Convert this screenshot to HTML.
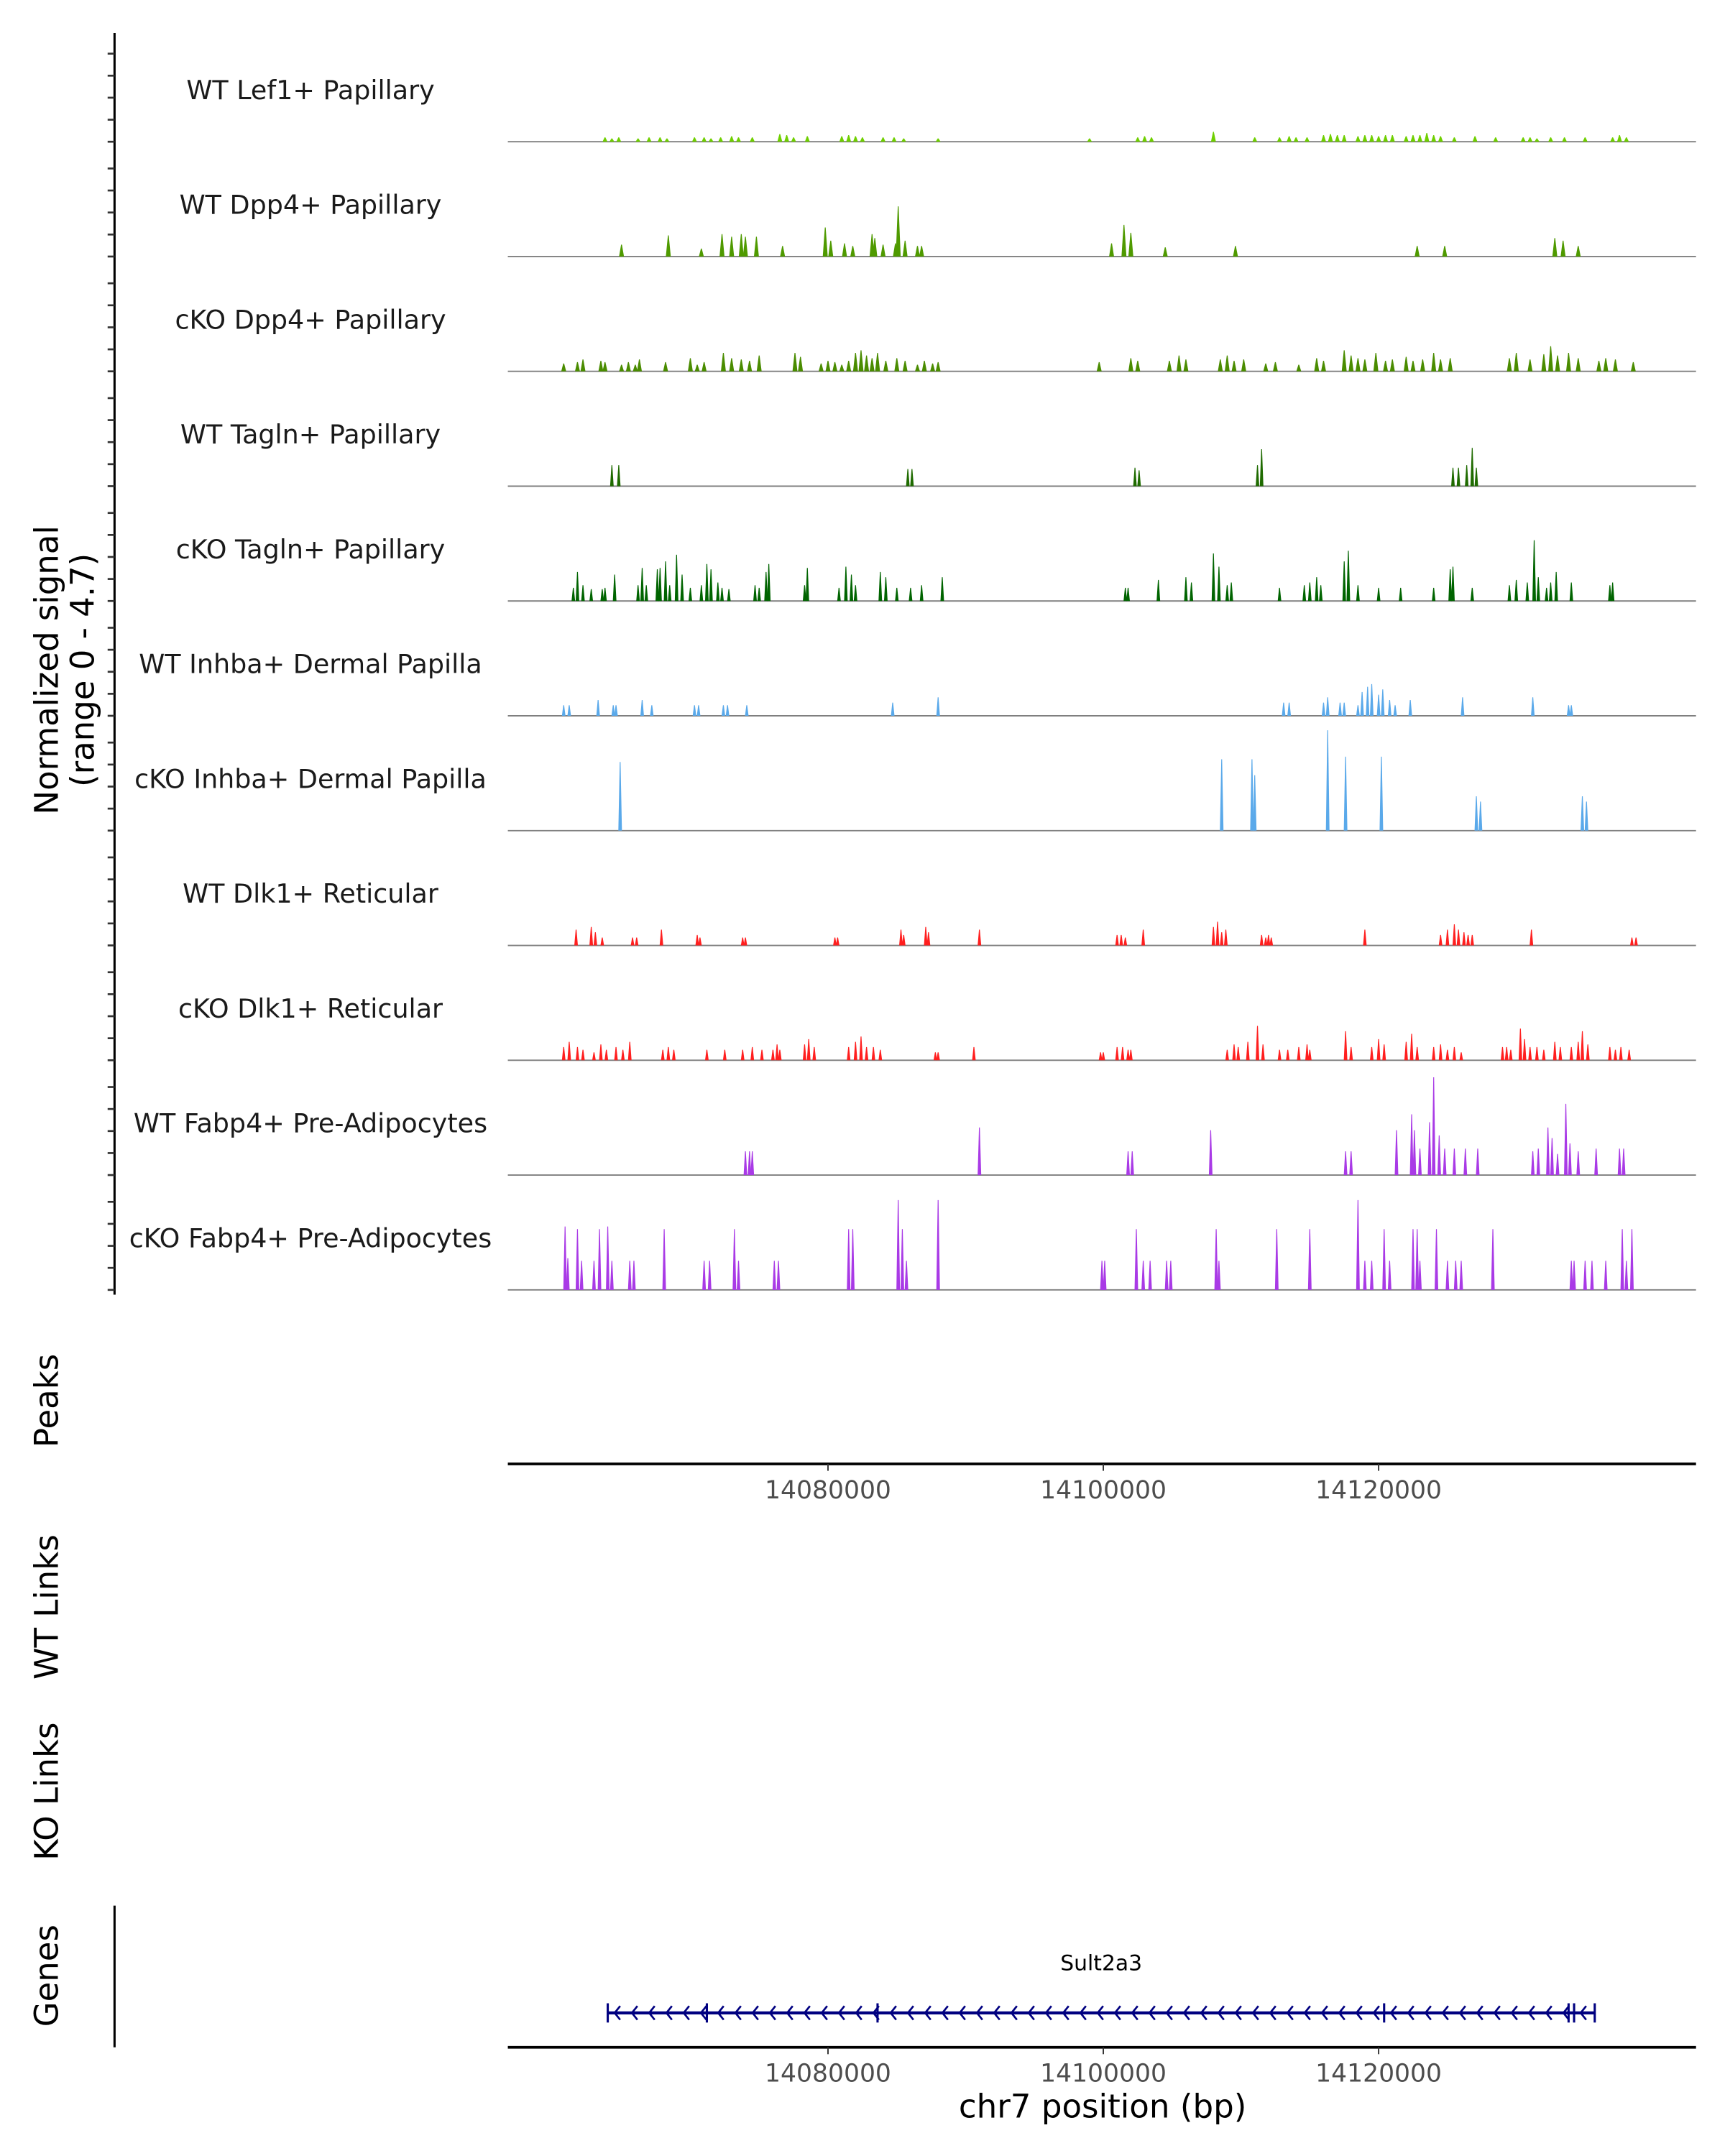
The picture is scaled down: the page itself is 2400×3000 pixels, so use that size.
<!DOCTYPE html>
<html><head><meta charset="utf-8">
<style>
html,body{margin:0;padding:0;background:#fff;}
svg{display:block;font-family:"DejaVu Sans","Liberation Sans",sans-serif;}
</style></head>
<body>
<svg id="chart" width="2400" height="3000" viewBox="0 0 1250 1567" preserveAspectRatio="none" xmlns="http://www.w3.org/2000/svg">
<g id="tracks"></g>
<line x1="83" y1="24" x2="83" y2="941" stroke="#000" stroke-width="1.6"/>
<g id="yticks"></g>
<text transform="translate(42,487) rotate(-90)" text-anchor="middle" font-size="23.5" fill="#000">Normalized signal</text>
<text transform="translate(68,487) rotate(-90)" text-anchor="middle" font-size="23.5" fill="#000">(range 0 - 4.7)</text>
<text transform="translate(42,1018) rotate(-90)" text-anchor="middle" font-size="23.5">Peaks</text>
<text transform="translate(42,1168) rotate(-90)" text-anchor="middle" font-size="23.5">WT Links</text>
<text transform="translate(42,1302) rotate(-90)" text-anchor="middle" font-size="23.5">KO Links</text>
<text transform="translate(42,1436) rotate(-90)" text-anchor="middle" font-size="23.5">Genes</text>
<line x1="83" y1="1385" x2="83" y2="1488" stroke="#000" stroke-width="1.6"/>
<g id="axes"></g>
<g id="gene"></g>
<text x="799" y="1539" text-anchor="middle" font-size="23.5">chr7 position (bp)</text>
</svg>
<script>
const NS="http://www.w3.org/2000/svg";
// positions in kb after chr7:14,000,000 ; heights in normalized signal
const trackNames=["WT Lef1+ Papillary","WT Dpp4+ Papillary","cKO Dpp4+ Papillary","WT Tagln+ Papillary","cKO Tagln+ Papillary","WT Inhba+ Dermal Papilla","cKO Inhba+ Dermal Papilla","WT Dlk1+ Reticular","cKO Dlk1+ Reticular","WT Fabp4+ Pre-Adipocytes","cKO Fabp4+ Pre-Adipocytes"];
const trackColors=["#6fcf00","#4f9a00","#4a8c00","#1f6b00","#006400","#5aa9ea","#5aa9ea","#ff1f1f","#ff1f1f","#a93ae6","#a93ae6"];
const pos0=[63.8,64.3,64.8,66.2,67.0,67.8,68.3,70.3,71.0,71.5,72.2,73.0,73.5,74.5,76.5,77.0,77.5,78.5,81.0,81.5,82.0,82.5,84.0,84.8,85.5,88.0,99.0,102.5,103.0,103.5,108.0,111.0,112.8,113.5,114.0,114.8,116.0,116.5,117.0,117.5,118.5,119.0,119.5,120.0,120.5,121.0,122.0,122.5,123.0,123.5,124.0,124.5,125.5,127.0,128.5,130.5,131.0,131.5,132.5,133.5,135.0,137.0,137.5,138.0];
const val0=[0.2,0.15,0.2,0.15,0.2,0.2,0.15,0.2,0.2,0.15,0.2,0.25,0.2,0.2,0.35,0.3,0.2,0.25,0.25,0.3,0.25,0.2,0.2,0.2,0.15,0.15,0.15,0.2,0.25,0.2,0.45,0.2,0.2,0.25,0.2,0.2,0.3,0.35,0.3,0.3,0.25,0.3,0.3,0.25,0.3,0.3,0.25,0.3,0.3,0.4,0.3,0.25,0.2,0.25,0.2,0.2,0.2,0.15,0.2,0.2,0.2,0.2,0.3,0.2];
const pos1=[65.0,68.4,70.8,72.3,73.0,73.7,74.0,74.8,76.7,79.8,80.2,81.2,81.8,83.2,83.4,84.0,84.9,85.1,85.6,86.5,86.8,100.6,101.5,102.0,104.5,109.6,122.8,124.8,132.8,133.4,134.5];
const val1=[0.54,0.96,0.36,1.02,0.9,1.02,0.9,0.9,0.48,1.32,0.72,0.6,0.48,1.02,0.84,0.54,0.6,2.28,0.72,0.48,0.48,0.6,1.44,1.08,0.42,0.48,0.48,0.48,0.84,0.72,0.48];
const pos2=[60.8,61.8,62.2,63.5,63.8,65.0,65.5,66.0,66.3,68.2,70.0,70.5,71.0,72.4,73.0,73.7,74.3,75.0,77.6,78.0,79.5,80.0,80.5,81.0,81.5,82.0,82.4,82.8,83.2,83.6,84.2,85.0,85.6,86.5,87.0,87.6,88.0,99.7,102.0,102.5,104.8,105.5,106.0,108.5,109.0,109.5,110.2,111.8,112.5,114.2,115.5,116.0,117.5,118.0,118.5,119.0,119.8,120.5,121.0,122.0,122.5,123.2,124.0,124.5,125.2,129.5,130.0,131.0,132.0,132.5,133.0,133.8,134.5,136.0,136.5,137.2,138.5];
const val2=[0.36,0.42,0.54,0.48,0.42,0.3,0.42,0.3,0.54,0.42,0.6,0.3,0.42,0.84,0.6,0.54,0.48,0.72,0.84,0.66,0.36,0.48,0.42,0.3,0.48,0.84,0.96,0.72,0.6,0.84,0.48,0.6,0.48,0.3,0.48,0.36,0.42,0.42,0.6,0.48,0.48,0.72,0.54,0.54,0.72,0.48,0.54,0.36,0.42,0.3,0.6,0.48,0.96,0.72,0.6,0.54,0.84,0.48,0.54,0.66,0.48,0.54,0.84,0.54,0.6,0.6,0.84,0.54,0.78,1.14,0.72,0.84,0.6,0.48,0.6,0.54,0.42];
const pos3=[64.3,64.8,85.8,86.1,102.3,102.6,111.2,111.5,125.4,125.8,126.4,126.8,127.1];
const val3=[0.96,0.96,0.78,0.78,0.84,0.72,0.96,1.68,0.84,0.84,0.96,1.74,0.84];
const pos4=[61.5,61.8,62.2,62.8,63.6,63.8,64.5,66.2,66.5,66.8,67.6,67.8,68.2,68.5,69.0,69.4,70.0,70.8,71.2,71.5,72.0,72.3,72.8,74.7,75.0,75.5,75.7,78.3,78.5,80.8,81.3,81.7,82.0,83.8,84.2,85.0,86.0,86.8,88.3,101.6,101.8,104.0,106.0,106.4,108.0,108.4,109.0,109.3,112.8,114.6,115.0,115.5,115.8,117.5,117.8,118.5,120.0,121.6,124.0,125.2,125.4,126.8,129.5,130.0,130.8,131.3,131.6,132.2,132.5,132.9,134.0,136.8,137.0];
const val4=[0.6,1.32,0.72,0.54,0.54,0.6,1.2,0.72,1.5,0.72,1.44,1.5,1.8,0.72,2.1,1.2,0.6,0.72,1.68,1.44,0.84,0.6,0.54,0.72,0.6,1.32,1.68,0.72,1.5,0.6,1.56,1.2,0.72,1.32,1.08,0.6,0.6,0.72,1.08,0.6,0.6,0.96,1.08,0.84,2.16,1.56,0.72,0.84,0.6,0.72,0.84,1.08,0.72,1.8,2.28,0.72,0.6,0.6,0.6,1.44,1.56,0.6,0.72,0.96,0.84,2.76,1.08,0.6,0.84,1.32,0.84,0.72,0.84];
const pos5=[60.8,61.2,63.3,64.4,64.6,66.5,67.2,70.3,70.6,72.4,72.7,74.1,84.7,88.0,113.1,113.5,116.0,116.3,117.2,117.5,118.5,118.8,119.2,119.5,120.0,120.3,120.8,121.2,122.3,126.1,131.2,133.8,134.0];
const val5=[0.48,0.48,0.72,0.48,0.48,0.72,0.48,0.48,0.48,0.48,0.48,0.48,0.6,0.84,0.6,0.6,0.6,0.84,0.6,0.6,0.48,1.08,1.32,1.44,0.96,1.2,0.72,0.48,0.72,0.84,0.84,0.48,0.48];
const pos6=[64.9,108.6,110.8,111.0,116.3,117.6,120.2,127.1,127.4,134.8,135.1];
const val6=[3.12,3.24,3.24,2.52,4.56,3.36,3.36,1.56,1.32,1.56,1.32];
const pos7=[61.7,62.8,63.1,63.6,65.8,66.1,67.9,70.5,70.7,73.8,74.0,80.5,80.7,85.3,85.5,87.1,87.3,91.0,101.0,101.3,101.6,102.9,108.0,108.3,108.6,108.9,111.5,111.8,112.0,112.2,119.0,124.5,125.0,125.5,125.8,126.2,126.5,126.8,131.1,138.4,138.7];
const val7=[0.72,0.84,0.6,0.36,0.36,0.36,0.72,0.48,0.36,0.36,0.36,0.36,0.36,0.72,0.48,0.84,0.6,0.72,0.48,0.48,0.36,0.72,0.84,1.08,0.6,0.72,0.48,0.36,0.48,0.36,0.72,0.48,0.72,0.96,0.72,0.6,0.48,0.48,0.72,0.36,0.36];
const pos8=[60.8,61.2,61.8,62.2,63.0,63.5,63.9,64.6,65.1,65.6,68.0,68.4,68.8,71.2,72.5,73.8,74.5,75.2,76.0,76.3,76.5,78.3,78.6,79.0,81.5,82.0,82.4,82.8,83.3,83.8,87.8,88.0,90.6,99.8,100.0,101.0,101.4,101.8,102.0,109.0,109.5,109.8,110.5,111.2,111.6,112.8,113.4,114.2,114.8,115.0,117.6,118.0,119.5,120.0,120.4,122.0,122.4,122.8,124.0,124.5,125.0,125.5,126.0,129.0,129.3,129.6,130.3,130.6,131.0,131.5,132.0,132.8,133.2,134.0,134.5,134.8,135.2,136.8,137.2,137.6,138.2];
const val8=[0.6,0.84,0.6,0.48,0.36,0.72,0.48,0.6,0.48,0.84,0.48,0.6,0.48,0.48,0.48,0.48,0.6,0.48,0.48,0.72,0.48,0.72,0.96,0.6,0.6,0.84,1.08,0.6,0.6,0.48,0.36,0.36,0.6,0.36,0.36,0.6,0.6,0.48,0.48,0.48,0.72,0.6,0.84,1.56,0.72,0.48,0.48,0.6,0.72,0.48,1.32,0.6,0.6,0.96,0.72,0.84,1.2,0.6,0.6,0.72,0.48,0.6,0.36,0.6,0.6,0.48,1.44,0.96,0.6,0.6,0.48,0.84,0.6,0.6,0.84,1.32,0.72,0.6,0.48,0.6,0.48];
const pos9=[74.0,74.3,74.5,91.0,101.8,102.1,107.8,117.6,118.0,121.3,122.4,122.6,123.0,123.7,124.0,124.4,124.8,125.5,126.3,127.2,131.2,131.6,132.3,132.6,133.0,133.6,133.9,134.5,135.8,137.5,137.8];
const val9=[1.08,1.08,1.08,2.16,1.08,1.08,2.04,1.08,1.08,2.04,2.76,2.04,1.2,2.4,4.44,1.8,1.2,1.2,1.2,1.2,1.08,1.2,2.16,1.68,0.96,3.24,1.44,1.08,1.2,1.2,1.2];
const pos10=[60.9,61.1,61.8,62.1,63.0,63.4,64.0,64.3,65.6,65.9,68.1,71.0,71.4,73.2,73.5,76.1,76.4,81.5,81.8,85.1,85.4,85.7,88.0,99.9,100.1,102.4,102.9,103.4,104.6,104.9,108.2,108.4,112.6,115.0,118.5,119.0,119.5,120.4,120.8,122.5,122.8,123.0,124.2,125.0,125.6,126.0,128.3,134.0,134.2,135.0,135.5,136.5,137.7,138.0,138.4];
const val10=[2.88,1.44,2.76,1.32,1.32,2.76,2.88,1.32,1.32,1.32,2.76,1.32,1.32,2.76,1.32,1.32,1.32,2.76,2.76,4.08,2.76,1.32,4.08,1.32,1.32,2.76,1.32,1.32,1.32,1.32,2.76,1.32,2.76,2.76,4.08,1.32,1.32,2.76,1.32,2.76,2.76,1.32,2.76,1.32,1.32,1.32,2.76,1.32,1.32,1.32,1.32,1.32,2.76,1.32,2.76];
const trackPos=[pos0,pos1,pos2,pos3,pos4,pos5,pos6,pos7,pos8,pos9,pos10];
const trackVals=[val0,val1,val2,val3,val4,val5,val6,val7,val8,val9,val10];
const yTickVals=[0,1,2,3,4];
const xTickKb=[80,100,120];
const xTickLabels=["14080000","14100000","14120000"];
const geneStartKb=64.0, geneEndKb=135.7;
const exonKb=[64.0,71.2,83.6,120.4,133.8,134.2,135.7];

const X0=368,X1=1229;
function xs(kb){return 600+(kb-80)*(199.5/20);}
const PANEL_TOP=103, PANEL_H=83.45, UNIT=16.0;
function ys(i,v){return PANEL_TOP+i*PANEL_H - v*UNIT;}

const tracks=document.getElementById('tracks');
const yt=document.getElementById('yticks');
trackNames.forEach((name,i)=>{
  const g=document.createElementNS(NS,'g');
  
  
  const lbl=document.createElementNS(NS,'text');
  
  
  lbl.setAttribute('x',225);lbl.setAttribute('y',ys(i,0)-31);
  lbl.setAttribute('text-anchor','middle');lbl.setAttribute('font-size','19');lbl.setAttribute('fill','#1a1a1a');
  lbl.textContent=name;g.appendChild(lbl);
  const base=document.createElementNS(NS,'line');
  
  
  base.setAttribute('x1',X0);base.setAttribute('x2',X1);
  base.setAttribute('y1',ys(i,0));base.setAttribute('y2',ys(i,0));
  base.setAttribute('stroke','#7f7f7f');base.setAttribute('stroke-width','1');
  g.appendChild(base);
  const P=trackPos[i],V=trackVals[i];
  const hw = i<=2?1.8:1.3;
  for(let k=0;k<P.length;k++){
    const x=xs(P[k]),y0=ys(i,0),y1=ys(i,V[k]);
    const p=document.createElementNS(NS,'polygon');
    
    
    p.setAttribute('points',(x-hw)+','+y0+' '+(x-0.3)+','+y1+' '+(x+0.3)+','+y1+' '+(x+hw)+','+y0);
    p.setAttribute('fill',trackColors[i]);
    g.appendChild(p);
  }
  tracks.appendChild(g);
  yTickVals.forEach(v=>{
    const t=document.createElementNS(NS,'line');
    
    
    t.setAttribute('x1',78);t.setAttribute('x2',83);
    t.setAttribute('y1',ys(i,v));t.setAttribute('y2',ys(i,v));
    t.setAttribute('stroke','#333');t.setAttribute('stroke-width','1.4');
    yt.appendChild(t);
  });
});

const axes=document.getElementById('axes');
[1064,1488].forEach(ay=>{
  const l=document.createElementNS(NS,'line');
  
  
  l.setAttribute('x1',X0);l.setAttribute('x2',X1);l.setAttribute('y1',ay);l.setAttribute('y2',ay);
  l.setAttribute('stroke','#000');l.setAttribute('stroke-width','2');
  axes.appendChild(l);
  xTickKb.forEach((kb,j)=>{
    const t=document.createElementNS(NS,'line');
    
    
    t.setAttribute('x1',xs(kb));t.setAttribute('x2',xs(kb));t.setAttribute('y1',ay);t.setAttribute('y2',ay+5);
    t.setAttribute('stroke','#333');t.setAttribute('stroke-width','1');
    axes.appendChild(t);
    const tx=document.createElementNS(NS,'text');
    
    
    tx.setAttribute('x',xs(kb));tx.setAttribute('y',ay+25);
    tx.setAttribute('text-anchor','middle');tx.setAttribute('font-size','18');tx.setAttribute('fill','#4d4d4d');
    tx.textContent=xTickLabels[j];
    axes.appendChild(tx);
  });
});

const gene=document.getElementById('gene');
const GY=1463;
const gl=document.createElementNS(NS,'line');


gl.setAttribute('x1',xs(geneStartKb));gl.setAttribute('x2',xs(geneEndKb));gl.setAttribute('y1',GY);gl.setAttribute('y2',GY);
gl.setAttribute('stroke','#000080');gl.setAttribute('stroke-width','2.2');
gene.appendChild(gl);
const gname=document.createElementNS(NS,'text');


gname.setAttribute('x',798);gname.setAttribute('y',1432);gname.setAttribute('text-anchor','middle');gname.setAttribute('font-size','15.5');
gname.textContent='Sult2a3';
gene.appendChild(gname);
exonKb.forEach(kb=>{
  const e=document.createElementNS(NS,'line');
  
  
  e.setAttribute('x1',xs(kb));e.setAttribute('x2',xs(kb));e.setAttribute('y1',GY-7);e.setAttribute('y2',GY+7);
  e.setAttribute('stroke','#000080');e.setAttribute('stroke-width','1.6');
  gene.appendChild(e);
});
for(let x=xs(geneStartKb)+5;x<xs(geneEndKb)-5;x+=12.5){
  const c=document.createElementNS(NS,'polyline');
  
  
  c.setAttribute('points',(x+4)+','+(GY-5)+' '+x+','+GY+' '+(x+4)+','+(GY+5));
  c.setAttribute('fill','none');c.setAttribute('stroke','#000080');c.setAttribute('stroke-width','1.4');
  gene.appendChild(c);
}
</script>
</body></html>
